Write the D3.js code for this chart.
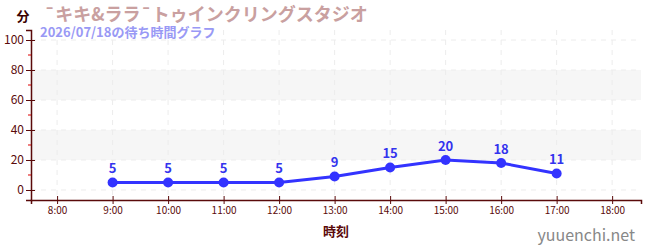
<!DOCTYPE html>
<html><head><meta charset="utf-8">
<script src="https://cdn.jsdelivr.net/npm/d3@7"></script>
<style>body{margin:0;background:#fff}svg{display:block}</style>
</head><body>
<script>
const hours = [9, 10, 11, 12, 13, 14, 15, 16, 17];
const waits = [5, 5, 5, 5, 9, 15, 20, 18, 11];
const xTicks = [8, 9, 10, 11, 12, 13, 14, 15, 16, 17, 18];
const yTicks = [0, 20, 40, 60, 80, 100];
const yMinor = [10, 30, 50, 70, 90];
const bands = [[20, 40], [60, 80]];
const title = "¯キキ&ララ¯トゥインクリングスタジオ";
const subtitle = "2026/07/18の待ち時間グラフ";

const W = 650, H = 250;
const L = 31, R = 641, T = 30, B = 200;
const svg = d3.select("body").append("svg").attr("width", W).attr("height", H);
const font = "'Noto Sans CJK JP','Noto Sans',sans-serif";

const x = d3.scaleLinear().domain([7.53, 18.52]).range([L, R]);
const y = d3.scaleLinear().domain([-6.67, 106.67]).range([B, T]);

// bands
svg.selectAll("rect.band").data(bands).enter().append("rect")
  .attr("x", L).attr("width", R - L)
  .attr("y", d => y(d[1])).attr("height", d => y(d[0]) - y(d[1]))
  .attr("fill", "#f6f6f6");

// grid
svg.selectAll("line.hg").data(yTicks).enter().append("line")
  .attr("x1", L).attr("x2", R).attr("y1", d => y(d)).attr("y2", d => y(d))
  .attr("stroke", "#ececec").attr("stroke-dasharray", "5,5");
svg.selectAll("line.vg").data(xTicks).enter().append("line")
  .attr("y1", T).attr("y2", B).attr("x1", d => x(d)).attr("x2", d => x(d))
  .attr("stroke", "#ececec").attr("stroke-dasharray", "5,5");

// axes
const axColor = "#5a0a0a";
const yAxis = svg.append("g").attr("transform", `translate(${L},0)`)
  .call(d3.axisLeft(y).tickValues(yTicks).tickSize(5).tickPadding(2));
const xAxis = svg.append("g").attr("transform", `translate(0,${B})`)
  .call(d3.axisBottom(x).tickValues(xTicks).tickSize(4).tickPadding(3).tickFormat(d => d + ":00"));
[yAxis, xAxis].forEach(g => {
  g.select(".domain").attr("stroke", axColor).attr("stroke-width", 1.5);
  g.selectAll(".tick line").attr("stroke", axColor);
  g.selectAll("text").attr("fill", axColor).style("font-family", font);
});
yAxis.selectAll("text").style("font-size", "12px");
xAxis.selectAll("text").style("font-size", "10px");
xAxis.selectAll(".tick").append("line").attr("y2", -4).attr("stroke", axColor);
yAxis.selectAll(".tick").append("line").attr("x2", 4).attr("stroke", axColor);
svg.selectAll("line.ym").data(yMinor).enter().append("line")
  .attr("x1", L - 3).attr("x2", L).attr("y1", d => y(d)).attr("y2", d => y(d))
  .attr("stroke", "#dd0000");

// line
const data = hours.map((h, i) => ({h, v: waits[i]}));
svg.append("path").datum(data)
  .attr("d", d3.line().x(d => x(d.h)).y(d => y(d.v)))
  .attr("fill", "none").attr("stroke", "#3333ff").attr("stroke-width", 3);
svg.selectAll("circle.pt").data(data).enter().append("circle")
  .attr("cx", d => x(d.h)).attr("cy", d => y(d.v)).attr("r", 5)
  .attr("fill", "#3333ff");
svg.selectAll("text.lbl").data(data).enter().append("text")
  .attr("x", d => x(d.h)).attr("y", d => y(d.v) - 9)
  .attr("text-anchor", "middle").attr("fill", "#3333ee")
  .style("font-family", font).style("font-size", "13px").style("font-weight", "bold")
  .text(d => d.v);

// titles
svg.append("text").attr("x", 44).attr("y", 21).text(title)
  .attr("fill", "#c9a0a0").style("font-family", font).style("font-size", "18px").style("font-weight", "bold");
svg.append("text").attr("x", 40).attr("y", 37).text(subtitle)
  .attr("fill", "#9999f5").style("font-family", font).style("font-size", "13px").style("font-weight", "bold");
svg.append("text").attr("x", 23).attr("y", 21).attr("text-anchor", "middle").text("分")
  .attr("fill", "#3a0000").style("font-family", font).style("font-size", "13px").style("font-weight", "bold");
svg.append("text").attr("x", (L + R) / 2).attr("y", 236).attr("text-anchor", "middle").text("時刻")
  .attr("fill", "#5a0a0a").style("font-family", font).style("font-size", "13px").style("font-weight", "bold");
svg.append("text").attr("x", 635).attr("y", 241).attr("text-anchor", "end").text("yuuenchi.net")
  .attr("fill", "#888").style("font-family", font).style("font-size", "16px");
</script>
</body></html>
